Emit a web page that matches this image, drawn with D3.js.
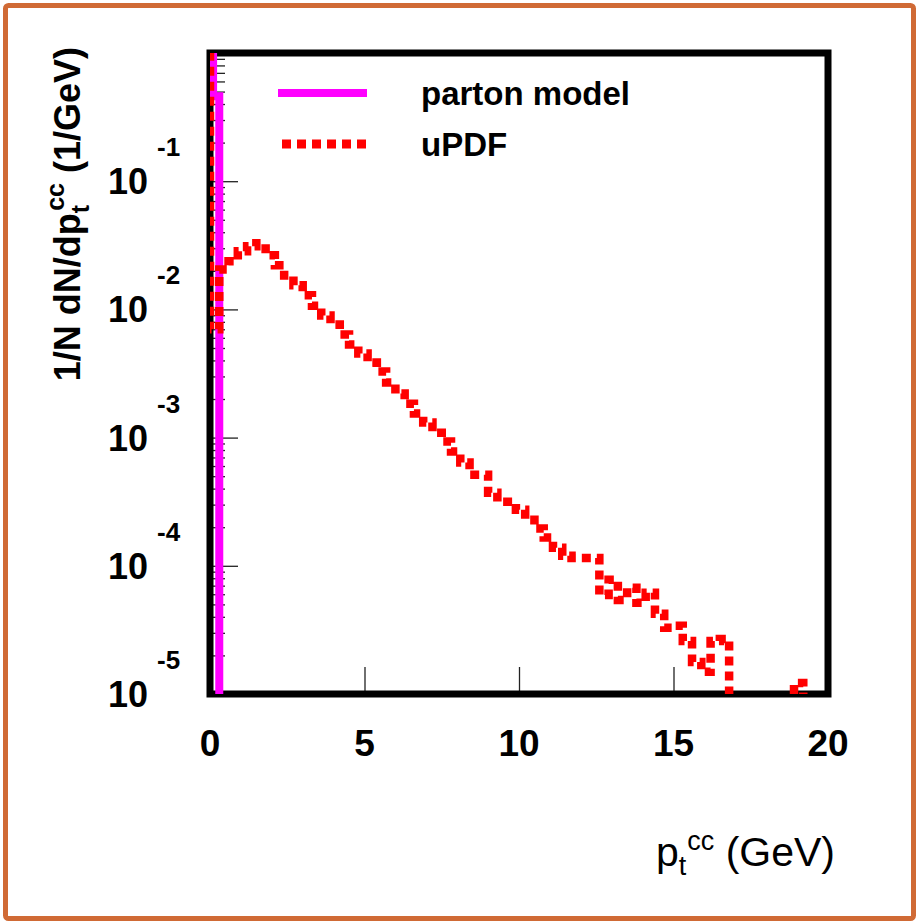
<!DOCTYPE html>
<html lang="en">
<head>
<meta charset="UTF-8">
<title>pt cc</title>
<script src="https://cdnjs.cloudflare.com/ajax/libs/d3/7.8.5/d3.min.js"></script>
<style>
  body { margin: 0; background: #fff; }
  text { font-family: "Liberation Sans", Arial, sans-serif; }
</style>
</head>
<body>
<div id="chart"></div>
<script>
    var width = 916;
    var height = 923;

    // axis ranges and ticks
    var ptRange = [0, 20];
    var yRange = [1e-5, 1];
    var xTickValues = [0, 5, 10, 15, 20];
    var yDecades = [-5, -4, -3, -2, -1];
    var legendLabels = ["parton model", "uPDF"];

    // parton model: bin edges and contents (first bin is off scale)
    var partonEdges = [0, 0.1, 0.3];
    var partonValues = [3, 0.46];

    // uPDF histogram, bins of 0.3 GeV starting at 0
    var updfBinWidth = 0.3;
    var updfValues = [
        7.0e-3, 2.05e-2, 2.37e-2, 2.84e-2, 3.11e-2, 3.28e-2, 2.64e-2, 2.21e-2, 1.84e-2, 1.54e-2,
        1.29e-2, 1.07e-2, 8.98e-3, 7.63e-3, 6.38e-3, 5.33e-3, 4.53e-3, 3.85e-3, 3.28e-3, 2.69e-3,
        2.21e-3, 1.84e-3, 1.54e-3, 1.31e-3, 1.09e-3, 9.31e-4, 7.78e-4, 6.38e-4, 5.14e-4, 5.14e-4,
        3.72e-4, 3.16e-4, 3.16e-4, 2.74e-4, 2.29e-4, 1.95e-4, 1.66e-4, 1.38e-4, 1.20e-4, 1.15e-4,
        1.15e-4, 1.15e-4, 5.93e-5, 7.78e-5, 5.42e-5, 6.73e-5, 5.14e-5, 6.15e-5, 4.22e-5, 3.28e-5,
        3.40e-5, 2.59e-5, 1.78e-5, 1.49e-5, 2.59e-5, 2.69e-5, 0, 0, 0, 0,
        0, 0, 0, 1.22e-5, 0, 0, 0
    ];

    var svg = d3.select("#chart")
        .append("svg")
        .attr("width", width)
        .attr("height", height);

    svg.append("rect")
        .attr("width", width)
        .attr("height", height)
        .attr("fill", "#fff");

    // orange border of the picture
    svg.append("rect")
        .attr("x", 5.5)
        .attr("y", 5.5)
        .attr("width", 908)
        .attr("height", 913)
        .attr("rx", 3)
        .attr("fill", "none")
        .attr("stroke", "#d06a35")
        .attr("stroke-width", 5);

    var x = d3.scaleLinear().domain(ptRange).range([210, 828]);
    var y = d3.scaleLog().domain(yRange).range([694, 53]);

    svg.append("clipPath").attr("id", "plotclip")
        .append("rect")
        .attr("x", x(0)).attr("y", y(1))
        .attr("width", x(20) - x(0))
        .attr("height", y(1e-5) - y(1));

    // ticks
    var majorY = yDecades.map(function (d) { return Math.pow(10, d); });
    var minorY = y.ticks().filter(function (v) {
        var l = Math.log10(v);
        return Math.abs(l - Math.round(l)) > 1e-6;
    });

    var gMajor = svg.append("g")
        .attr("transform", "translate(" + x(0) + ",0)")
        .call(d3.axisRight(y).tickValues(majorY).tickSize(28).tickFormat(""));
    var gMinor = svg.append("g")
        .attr("transform", "translate(" + x(0) + ",0)")
        .call(d3.axisRight(y).tickValues(minorY).tickSize(15).tickFormat(""));
    var gX = svg.append("g")
        .attr("transform", "translate(0," + y(1e-5) + ")")
        .call(d3.axisTop(x).tickValues([5, 10, 15]).tickSize(27).tickFormat(""));
    [gMajor, gMinor, gX].forEach(function (g) {
        g.select(".domain").remove();
        g.selectAll(".tick line").attr("stroke", "#222").attr("stroke-width", 1.3);
    });

    // frame
    svg.append("rect")
        .attr("x", x(0)).attr("y", y(1))
        .attr("width", x(20) - x(0))
        .attr("height", y(1e-5) - y(1))
        .attr("fill", "none")
        .attr("stroke", "#000")
        .attr("stroke-width", 7);

    // step outline of a histogram; the path starts at startValue on the low edge
    function stepPoints(edges, values, startValue) {
        var pts = [[edges[0], startValue]];
        for (var i = 0; i < values.length; i++) {
            pts.push([edges[i], values[i]]);
            pts.push([edges[i + 1], values[i]]);
        }
        pts.push([edges[values.length], 0]);
        return pts;
    }

    var line = d3.line()
        .x(function (d) { return x(d[0]); })
        .y(function (d) { return y(Math.max(d[1], 1e-7)); });

    var plot = svg.append("g").attr("clip-path", "url(#plotclip)");

    plot.append("path")
        .datum(stepPoints(partonEdges, partonValues, 3))
        .attr("d", line)
        .attr("fill", "none")
        .attr("stroke", "#ff00ff")
        .attr("stroke-width", 8);

    var updfEdges = updfValues.map(function (v, i) { return i * updfBinWidth; });
    updfEdges.push(updfValues.length * updfBinWidth);

    plot.append("path")
        .datum(stepPoints(updfEdges, updfValues, 3))
        .attr("d", line)
        .attr("fill", "none")
        .attr("stroke", "#ff0000")
        .attr("stroke-width", 8.5)
        .attr("stroke-dasharray", "9,6");

    // y tick labels 10^n
    var yLab = svg.append("g");
    yDecades.forEach(function (d) {
        var yy = y(Math.pow(10, d));
        yLab.append("text")
            .attr("x", 148).attr("y", yy + 13)
            .attr("text-anchor", "end")
            .attr("font-size", 36).attr("font-weight", "bold")
            .text("10");
        yLab.append("text")
            .attr("x", 157).attr("y", yy - 25)
            .attr("font-size", 26).attr("font-weight", "bold")
            .text(String(d));
    });

    // x tick labels
    svg.append("g").selectAll("text")
        .data(xTickValues)
        .enter()
        .append("text")
        .attr("x", function (d) { return x(d); })
        .attr("y", 756)
        .attr("text-anchor", "middle")
        .attr("font-size", 37).attr("font-weight", "bold")
        .text(function (d) { return d; });

    // x title
    var xt = svg.append("text")
        .attr("x", 835).attr("y", 866)
        .attr("text-anchor", "end")
        .attr("font-size", 41);
    xt.append("tspan").text("p");
    xt.append("tspan").attr("font-size", 27).attr("dy", 9).text("t");
    xt.append("tspan").attr("font-size", 27).attr("dy", -25).attr("dx", 1).text("cc");
    xt.append("tspan").attr("dy", 16).text(" (GeV)");

    // y title
    var yt = svg.append("text")
        .attr("transform", "translate(80,47) rotate(-90)")
        .attr("text-anchor", "end")
        .attr("font-size", 36).attr("font-weight", "bold");
    yt.append("tspan").text("1/N dN/dp");
    yt.append("tspan").attr("font-size", 25).attr("dy", 9).text("t");
    yt.append("tspan").attr("font-size", 25).attr("dy", -25).attr("dx", -6).text("cc");
    yt.append("tspan").attr("dy", 16).text(" (1/GeV)");

    // legend
    var legendStyles = [
        {color: "#ff00ff", dash: null, width: 8},
        {color: "#ff0000", dash: "9,6", width: 9}
    ];
    var legend = svg.append("g");
    legendLabels.forEach(function (lab, i) {
        var ly = 93 + i * 51;
        legend.append("line")
            .attr("x1", 278).attr("x2", 367)
            .attr("y1", ly).attr("y2", ly)
            .attr("stroke", legendStyles[i].color)
            .attr("stroke-width", legendStyles[i].width)
            .attr("stroke-dasharray", legendStyles[i].dash)
            .attr("stroke-dashoffset", i ? -4 : 0);
        legend.append("text")
            .attr("x", 421).attr("y", ly + 12)
            .attr("font-size", 33).attr("font-weight", "bold")
            .text(lab);
    });
</script>
</body>
</html>
